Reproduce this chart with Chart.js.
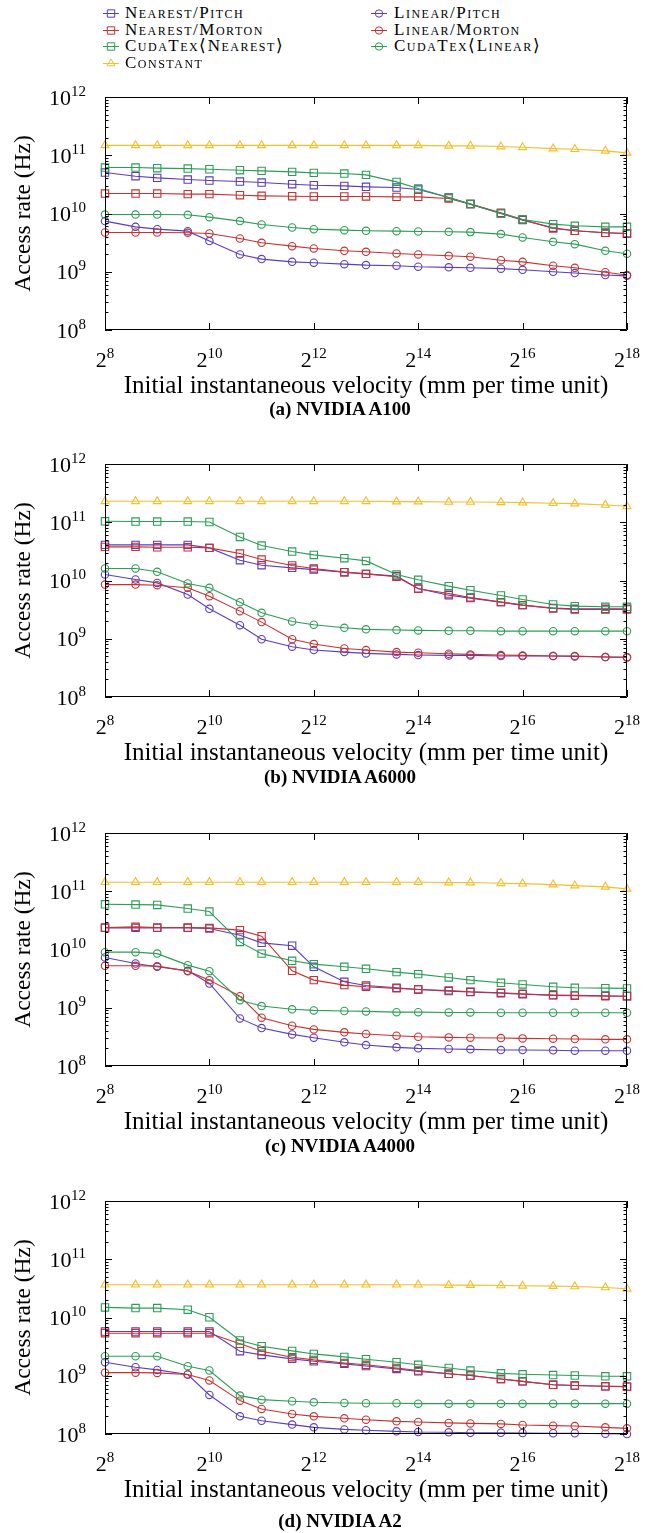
<!DOCTYPE html>
<html>
<head>
<meta charset="utf-8">
<script src="https://cdn.jsdelivr.net/npm/chart.js@4.4.1/dist/chart.umd.min.js"></script>
<style>
  html, body { margin: 0; padding: 0; background: #fff; }
  body { width: 652px; height: 1533px; position: relative; overflow: hidden; font-family: 'Liberation Serif', serif; }
  .panel { position: absolute; left: 0; }
  .caption { position: absolute; left: 0; width: 680px; text-align: center; font: bold 19px/18px 'Liberation Serif', serif; color: #000; }
  .legend-item { position: absolute; height: 18px; line-height: 18px; font-size: 17px; font-variant: small-caps; letter-spacing: 1.5px; white-space: nowrap; }
  .legend-item canvas { position: absolute; left: 0; top: 3px; }
  .legend-item span { position: absolute; top: 0; }
</style>
</head>
<body>
<script>
// x values: initial velocity
const velocity = [256, 384, 512, 768, 1024, 1536, 2048, 3072, 4096, 6144, 8192, 12288, 16384, 24576, 32768, 49152, 65536, 98304, 131072, 196608, 262144];

const seriesNames = ['Nearest/Pitch', 'Linear/Pitch', 'Nearest/Morton', 'Linear/Morton', 'CudaTex\u27E8Nearest\u27E9', 'CudaTex\u27E8Linear\u27E9', 'Constant'];
const seriesColors = ['#5a3ebd', '#5a3ebd', '#c8312f', '#c8312f', '#2b9e55', '#2b9e55', '#f7bd2a'];
const seriesMarkers = ['rect', 'circle', 'rect', 'circle', 'rect', 'circle', 'triangle'];

const xTicks = [8, 10, 12, 14, 16, 18];
const yTicks = [8, 9, 10, 11, 12];

// (a) NVIDIA A100
const a100NearestPitch = [5.05e10, 4.37e10, 4.09e10, 3.83e10, 3.68e10, 3.54e10, 3.4e10, 3.18e10, 3.06e10, 2.98e10, 2.87e10, 2.79e10, 2.58e10, 1.88e10, 1.45e10, 1.0e10, 7.7e9, 5.7e9, 5.05e9, 4.66e9, 4.54e9];
const a100LinearPitch = [7.4e9, 5.9e9, 5.39e9, 4.98e9, 3.36e9, 1.98e9, 1.65e9, 1.48e9, 1.43e9, 1.35e9, 1.3e9, 1.27e9, 1.22e9, 1.19e9, 1.17e9, 1.13e9, 1.08e9, 1.0e9, 9.5e8, 8.8e8, 8.5e8];
const a100NearestMorton = [2.2e10, 2.2e10, 2.2e10, 2.15e10, 2.15e10, 2.06e10, 2.01e10, 1.98e10, 1.96e10, 1.96e10, 1.96e10, 1.93e10, 1.93e10, 1.81e10, 1.45e10, 1.03e10, 7.9e9, 5.53e9, 5.05e9, 4.66e9, 4.54e9];
const a100LinearMorton = [4.72e9, 4.72e9, 4.72e9, 4.66e9, 4.54e9, 3.72e9, 3.14e9, 2.75e9, 2.51e9, 2.29e9, 2.2e9, 2.06e9, 1.98e9, 1.88e9, 1.81e9, 1.58e9, 1.48e9, 1.27e9, 1.17e9, 9.8e8, 8.8e8];
const a100TexNearest = [6.15e10, 6.15e10, 6.0e10, 5.9e10, 5.75e10, 5.53e10, 5.39e10, 5.18e10, 4.98e10, 4.85e10, 4.6e10, 3.49e10, 2.68e10, 1.88e10, 1.45e10, 1.0e10, 7.9e9, 6.56e9, 6.15e9, 5.9e9, 5.9e9];
const a100TexLinear = [9.6e9, 9.6e9, 9.6e9, 9.5e9, 8.65e9, 7.4e9, 6.48e9, 5.75e9, 5.39e9, 5.18e9, 5.05e9, 4.98e9, 4.91e9, 4.85e9, 4.79e9, 4.43e9, 3.88e9, 3.27e9, 2.98e9, 2.29e9, 2.04e9];
const a100Constant = [1.48e11, 1.48e11, 1.48e11, 1.48e11, 1.48e11, 1.48e11, 1.48e11, 1.48e11, 1.48e11, 1.48e11, 1.48e11, 1.48e11, 1.48e11, 1.45e11, 1.45e11, 1.41e11, 1.37e11, 1.3e11, 1.27e11, 1.19e11, 1.1e11];

// (b) NVIDIA A6000
const a6000NearestPitch = [4.09e10, 4.09e10, 4.09e10, 4.09e10, 3.63e10, 2.23e10, 1.83e10, 1.65e10, 1.54e10, 1.39e10, 1.3e10, 1.19e10, 7.3e9, 5.6e9, 4.98e9, 4.25e9, 3.78e9, 3.36e9, 3.27e9, 3.27e9, 3.27e9];
const a6000LinearPitch = [1.27e10, 1.04e10, 9.1e9, 5.75e9, 3.27e9, 1.71e9, 9.8e8, 7.3e8, 6.4e8, 5.9e8, 5.6e8, 5.39e8, 5.25e8, 5.18e8, 5.18e8, 5.05e8, 5.05e8, 5.05e8, 4.98e8, 4.85e8, 4.79e8];
const a6000NearestMorton = [3.78e10, 3.78e10, 3.72e10, 3.72e10, 3.63e10, 2.9e10, 2.29e10, 1.81e10, 1.61e10, 1.39e10, 1.3e10, 1.16e10, 7.2e9, 5.98e9, 5.12e9, 4.25e9, 3.78e9, 3.31e9, 3.18e9, 3.18e9, 3.18e9];
const a6000LinearMorton = [8.5e9, 8.5e9, 8.3e9, 7.5e9, 5.39e9, 2.98e9, 1.93e9, 9.8e8, 8.1e8, 6.8e8, 6.4e8, 5.9e8, 5.75e8, 5.53e8, 5.39e8, 5.25e8, 5.18e8, 5.05e8, 5.05e8, 4.85e8, 4.79e8];
const a6000TexNearest = [1.04e11, 1.03e11, 1.03e11, 1.03e11, 1.01e11, 5.6e10, 3.98e10, 3.14e10, 2.75e10, 2.41e10, 2.17e10, 1.27e10, 1.03e10, 8.0e9, 6.82e9, 5.53e9, 4.72e9, 3.88e9, 3.63e9, 3.54e9, 3.54e9];
const a6000TexLinear = [1.61e10, 1.61e10, 1.41e10, 8.9e9, 7.5e9, 4.25e9, 2.79e9, 1.98e9, 1.74e9, 1.54e9, 1.45e9, 1.41e9, 1.39e9, 1.37e9, 1.37e9, 1.35e9, 1.35e9, 1.35e9, 1.35e9, 1.35e9, 1.35e9];
const a6000Constant = [2.29e11, 2.29e11, 2.29e11, 2.29e11, 2.29e11, 2.29e11, 2.29e11, 2.29e11, 2.29e11, 2.29e11, 2.29e11, 2.26e11, 2.26e11, 2.23e11, 2.23e11, 2.2e11, 2.17e11, 2.12e11, 2.09e11, 1.98e11, 1.88e11];

// (c) NVIDIA A4000
const a4000NearestPitch = [2.35e10, 2.35e10, 2.35e10, 2.35e10, 2.29e10, 1.76e10, 1.3e10, 1.16e10, 5.05e9, 2.79e9, 2.41e9, 2.2e9, 2.06e9, 1.93e9, 1.86e9, 1.78e9, 1.71e9, 1.65e9, 1.63e9, 1.61e9, 1.58e9];
const a4000LinearPitch = [7.3e9, 5.75e9, 5.05e9, 4.31e9, 2.61e9, 6.56e8, 4.48e8, 3.49e8, 3.06e8, 2.55e8, 2.29e8, 2.09e8, 2.01e8, 1.96e8, 1.93e8, 1.88e8, 1.88e8, 1.86e8, 1.83e8, 1.83e8, 1.83e8];
const a4000NearestMorton = [2.38e10, 2.45e10, 2.38e10, 2.38e10, 2.35e10, 2.15e10, 1.69e10, 4.31e9, 2.98e9, 2.45e9, 2.29e9, 2.15e9, 2.06e9, 1.98e9, 1.88e9, 1.81e9, 1.74e9, 1.63e9, 1.61e9, 1.58e9, 1.58e9];
const a4000LinearMorton = [5.25e9, 5.25e9, 5.18e9, 4.25e9, 2.98e9, 1.58e9, 6.75e8, 4.91e8, 4.25e8, 3.78e8, 3.54e8, 3.31e8, 3.18e8, 3.1e8, 3.06e8, 3.02e8, 2.98e8, 2.94e8, 2.9e8, 2.87e8, 2.87e8];
const a4000TexNearest = [5.98e10, 5.9e10, 5.83e10, 5.05e10, 4.48e10, 1.35e10, 8.5e9, 6.4e9, 5.6e9, 5.05e9, 4.66e9, 4.09e9, 3.78e9, 3.31e9, 2.98e9, 2.68e9, 2.51e9, 2.29e9, 2.2e9, 2.17e9, 2.15e9];
const a4000TexLinear = [9.0e9, 9.0e9, 8.5e9, 5.39e9, 4.25e9, 1.35e9, 1.07e9, 9.4e8, 9.0e8, 8.8e8, 8.65e8, 8.4e8, 8.4e8, 8.3e8, 8.3e8, 8.2e8, 8.2e8, 8.2e8, 8.2e8, 8.2e8, 8.2e8];
const a4000Constant = [1.43e11, 1.43e11, 1.43e11, 1.43e11, 1.43e11, 1.43e11, 1.43e11, 1.43e11, 1.43e11, 1.43e11, 1.43e11, 1.43e11, 1.43e11, 1.41e11, 1.41e11, 1.37e11, 1.35e11, 1.3e11, 1.25e11, 1.19e11, 1.1e11];

// (d) NVIDIA A2
const a2NearestPitch = [5.74e9, 5.74e9, 5.74e9, 5.74e9, 5.74e9, 2.64e9, 2.28e9, 1.95e9, 1.77e9, 1.6e9, 1.47e9, 1.31e9, 1.19e9, 1.08e9, 1.01e9, 8.8e8, 8.0e8, 7.0e8, 6.8e8, 6.6e8, 6.5e8];
const a2LinearPitch = [1.71e9, 1.4e9, 1.26e9, 1.05e9, 4.68e8, 2.01e8, 1.69e8, 1.45e8, 1.3e8, 1.2e8, 1.16e8, 1.11e8, 1.08e8, 1.07e8, 1.05e8, 1.05e8, 1.04e8, 1.03e8, 1.03e8, 1.01e8, 1.0e8];
const a2NearestMorton = [5.38e9, 5.38e9, 5.38e9, 5.38e9, 5.38e9, 3.53e9, 2.64e9, 2.08e9, 1.87e9, 1.66e9, 1.54e9, 1.36e9, 1.23e9, 1.08e9, 1.01e9, 8.8e8, 8.0e8, 7.0e8, 6.8e8, 6.6e8, 6.5e8];
const a2LinearMorton = [1.13e9, 1.13e9, 1.12e9, 1.05e9, 8.3e8, 3.74e8, 2.69e8, 2.21e8, 2.01e8, 1.86e8, 1.76e8, 1.65e8, 1.61e8, 1.55e8, 1.52e8, 1.49e8, 1.43e8, 1.39e8, 1.37e8, 1.3e8, 1.25e8];
const a2TexNearest = [1.49e10, 1.45e10, 1.45e10, 1.36e10, 1.01e10, 4.03e9, 3.21e9, 2.67e9, 2.37e9, 2.11e9, 1.92e9, 1.71e9, 1.54e9, 1.36e9, 1.23e9, 1.1e9, 1.06e9, 1.03e9, 1.01e9, 9.8e8, 9.8e8];
const a2TexLinear = [2.16e9, 2.16e9, 2.16e9, 1.46e9, 1.23e9, 4.56e8, 3.89e8, 3.65e8, 3.5e8, 3.41e8, 3.37e8, 3.37e8, 3.32e8, 3.32e8, 3.32e8, 3.32e8, 3.32e8, 3.32e8, 3.32e8, 3.32e8, 3.32e8];
const a2Constant = [3.65e10, 3.65e10, 3.65e10, 3.65e10, 3.65e10, 3.65e10, 3.65e10, 3.65e10, 3.65e10, 3.65e10, 3.65e10, 3.65e10, 3.65e10, 3.6e10, 3.6e10, 3.55e10, 3.5e10, 3.46e10, 3.41e10, 3.28e10, 3.11e10];

const panels = [
    { caption: '(a) NVIDIA A100', top: 67, captionGap: 70, series: [a100NearestPitch, a100LinearPitch, a100NearestMorton, a100LinearMorton, a100TexNearest, a100TexLinear, a100Constant] },
    { caption: '(b) NVIDIA A6000', top: 434, captionGap: 71, series: [a6000NearestPitch, a6000LinearPitch, a6000NearestMorton, a6000LinearMorton, a6000TexNearest, a6000TexLinear, a6000Constant] },
    { caption: '(c) NVIDIA A4000', top: 803, captionGap: 71, series: [a4000NearestPitch, a4000LinearPitch, a4000NearestMorton, a4000LinearMorton, a4000TexNearest, a4000TexLinear, a4000Constant] },
    { caption: '(d) NVIDIA A2', top: 1171, captionGap: 78, series: [a2NearestPitch, a2LinearPitch, a2NearestMorton, a2LinearMorton, a2TexNearest, a2TexLinear, a2Constant] }
];

const FONT = '"Liberation Serif", serif';
const markerRadius = { rect: 5.2, circle: 3.7, triangle: 4.6 };

// draws "base^exp" with baseline at y
function drawPower(ctx, base, exp, x, y, align) {
    ctx.font = '22px ' + FONT;
    const bw = ctx.measureText(base).width;
    ctx.font = '15px ' + FONT;
    const ew = ctx.measureText(exp).width;
    const left = align === 'center' ? x - (bw + ew) / 2 : x - (bw + ew);
    ctx.textAlign = 'left';
    ctx.textBaseline = 'alphabetic';
    ctx.font = '22px ' + FONT;
    ctx.fillText(base, left, y);
    ctx.font = '15px ' + FONT;
    ctx.fillText(exp, left + bw, y - 9);
}

// pgfplots-like box with inward ticks, tick labels and axis titles
const framePlugin = {
    id: 'frame',
    afterDatasetsDraw(chart) {
        const ctx = chart.ctx;
        const area = chart.chartArea;
        const xs = chart.scales.x;
        const ys = chart.scales.y;
        ctx.save();
        ctx.strokeStyle = '#000';
        ctx.fillStyle = '#000';
        ctx.lineWidth = 1;

        ctx.beginPath();
        ctx.rect(area.left + 0.5, area.top + 0.5, area.right - area.left - 1, area.bottom - area.top - 1);
        ctx.stroke();

        ctx.beginPath();
        xTicks.forEach(function(k) {
            const px = Math.round(xs.getPixelForValue(Math.pow(2, k))) + 0.5;
            ctx.moveTo(px, area.bottom);
            ctx.lineTo(px, area.bottom - 7);
            ctx.moveTo(px, area.top);
            ctx.lineTo(px, area.top + 7);
        });
        for (let k = 8; k < 12; k++) {
            for (let m = 1; m < 10; m++) {
                const py = Math.round(ys.getPixelForValue(m * Math.pow(10, k))) + 0.5;
                const len = m === 1 ? 7 : 3.5;
                ctx.moveTo(area.left, py);
                ctx.lineTo(area.left + len, py);
                ctx.moveTo(area.right, py);
                ctx.lineTo(area.right - len, py);
            }
        }
        ctx.stroke();

        xTicks.forEach(function(k) {
            drawPower(ctx, '2', String(k), xs.getPixelForValue(Math.pow(2, k)), area.bottom + 37, 'center');
        });
        yTicks.forEach(function(k) {
            const py = ys.getPixelForValue(Math.pow(10, k));
            drawPower(ctx, '10', String(k), 86, py + 7.5, 'right');
        });

        ctx.font = '25px ' + FONT;
        ctx.textAlign = 'center';
        ctx.textBaseline = 'alphabetic';
        ctx.fillText('Initial instantaneous velocity (mm per time unit)', (area.left + area.right) / 2, area.bottom + 63);

        ctx.translate(24, (area.top + area.bottom) / 2);
        ctx.rotate(-Math.PI / 2);
        ctx.font = '23.5px ' + FONT;
        ctx.textBaseline = 'middle';
        ctx.fillText('Access rate (Hz)', 0, 0);
        ctx.restore();
    }
};

function buildDatasets(series) {
    const datasets = series.map(function(values, i) {
        const style = seriesMarkers[i];
        return {
            label: seriesNames[i],
            data: velocity.map(function(v, j) { return { x: v, y: values[j] }; }),
            borderColor: seriesColors[i],
            borderWidth: 1.1,
            pointStyle: style,
            pointRadius: markerRadius[style],
            pointBorderColor: seriesColors[i],
            pointBackgroundColor: 'rgba(0,0,0,0)',
            pointBorderWidth: 1.1,
            tension: 0,
            clip: false
        };
    });
    // first dataset is painted last, so reverse to keep legend order on top
    return datasets.reverse();
}

panels.forEach(function(panel) {
    const wrap = document.createElement('div');
    wrap.className = 'panel';
    wrap.style.top = panel.top + 'px';
    const canvas = document.createElement('canvas');
    canvas.width = 652;
    canvas.height = 333;
    wrap.appendChild(canvas);
    document.body.appendChild(wrap);

    const cap = document.createElement('div');
    cap.className = 'caption';
    cap.style.top = (panel.top + 30 + 233 + panel.captionGap) + 'px';
    cap.textContent = panel.caption;
    document.body.appendChild(cap);

    new Chart(canvas.getContext('2d'), {
        type: 'line',
        data: { datasets: buildDatasets(panel.series) },
        options: {
            responsive: false,
            animation: false,
            layout: { padding: { left: 105, right: 25, top: 30, bottom: 70 } },
            plugins: { legend: { display: false }, tooltip: { enabled: false } },
            scales: {
                x: { type: 'logarithmic', min: 256, max: 262144, display: false },
                y: { type: 'logarithmic', min: 1e8, max: 1e12, display: false }
            }
        },
        plugins: [framePlugin]
    });
});

// shared legend, two columns filled row by row
function drawLegendIcon(canvas, color, style) {
    const ctx = canvas.getContext('2d');
    const cy = 6.5;
    const cx = 9;
    ctx.strokeStyle = color;
    ctx.lineWidth = 1;
    ctx.beginPath();
    ctx.moveTo(1, cy);
    ctx.lineTo(17, cy);
    ctx.stroke();
    ctx.beginPath();
    const r = markerRadius[style];
    if (style === 'rect') {
        const s = r * Math.SQRT1_2;
        ctx.rect(cx - s, cy - s, 2 * s, 2 * s);
    } else if (style === 'circle') {
        ctx.arc(cx, cy, r, 0, Math.PI * 2);
    } else {
        ctx.moveTo(cx, cy - r);
        ctx.lineTo(cx + Math.sin(2 * Math.PI / 3) * r, cy + r / 2);
        ctx.lineTo(cx - Math.sin(2 * Math.PI / 3) * r, cy + r / 2);
        ctx.closePath();
    }
    ctx.stroke();
}

seriesNames.forEach(function(name, i) {
    const col = i % 2;
    const row = Math.floor(i / 2);
    const item = document.createElement('div');
    item.className = 'legend-item';
    item.style.left = (col === 0 ? 102 : 370) + 'px';
    item.style.top = (4 + row * 16.6) + 'px';
    const icon = document.createElement('canvas');
    icon.width = 18;
    icon.height = 13;
    drawLegendIcon(icon, seriesColors[i], seriesMarkers[i]);
    const text = document.createElement('span');
    text.style.left = (col === 0 ? 23 : 24) + 'px';
    text.textContent = name;
    item.appendChild(icon);
    item.appendChild(text);
    document.body.appendChild(item);
});
</script>
</body>
</html>
